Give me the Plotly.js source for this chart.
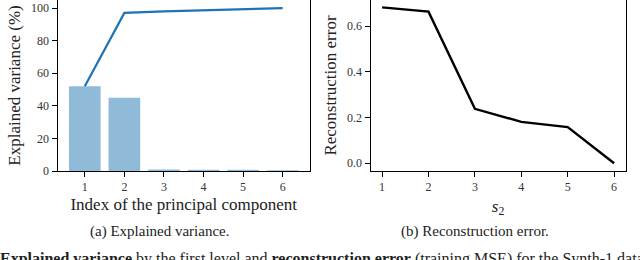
<!DOCTYPE html>
<html><head><meta charset="utf-8">
<script src="https://cdn.plot.ly/plotly-3.0.1.min.js"></script>
<style>html,body{margin:0;padding:0;background:#fff;}#plot{width:640px;height:260px;}</style>
</head><body><div id="plot"></div>
<script>
const components = [1, 2, 3, 4, 5, 6];
const explainedVariance = [52.1, 45.0, 0.9, 0.8, 0.7, 0.5];
const cumulativeVariance = [52.1, 97.1, 98.0, 98.8, 99.5, 100.0];
const s2Values = [1, 2, 3, 4, 5, 6];
const reconstructionError = [0.682, 0.663, 0.238, 0.181, 0.158, 0.0];
const tickLabels = ['1', '2', '3', '4', '5', '6'];

const F = '"Liberation Serif", "Times New Roman", serif';
const traces = [
  {type:'bar', x:components, y:explainedVariance, marker:{color:'#8fbbd9'}, width:0.8, xaxis:'x', yaxis:'y', hoverinfo:'skip'},
  {type:'scatter', mode:'lines', x:components, y:cumulativeVariance, line:{color:'#1f73b4', width:2.2}, xaxis:'x', yaxis:'y'},
  {type:'scatter', mode:'lines', x:s2Values, y:reconstructionError, line:{color:'#000', width:2.4}, xaxis:'x2', yaxis:'y2'}
];
function ax(extra){
  return Object.assign({showline:true, mirror:true, linecolor:'#000', linewidth:1, ticks:'outside', ticklen:5, tickwidth:1, tickcolor:'#000', showgrid:false, zeroline:false, tickfont:{family:F, size:12, color:'#333'}}, extra);
}
const layout = {
  width:640, height:260, margin:{l:0,r:0,t:0,b:0}, showlegend:false,
  paper_bgcolor:'#fff', plot_bgcolor:'#fff', font:{family:F, color:'#222'},
  xaxis: ax({domain:[57.5/640, 310/640], range:[0.31, 6.69], tickvals:components, ticktext:tickLabels, anchor:'y',
    title:{text:'Index of the principal component', font:{family:F, size:17, color:'#222'}, standoff:4}}),
  yaxis: ax({domain:[89/260, 1], range:[0, 105], tickvals:[0,20,40,60,80,100], anchor:'x',
    title:{text:'Explained variance (%)', font:{family:F, size:17, color:'#222'}, standoff:6}}),
  xaxis2: ax({domain:[370.5/640, 625.7/640], range:[0.75, 6.25], tickvals:s2Values, ticktext:tickLabels, anchor:'y2',
    title:{text:'<i>s</i><sub>2</sub>', font:{family:F, size:17, color:'#222'}, standoff:6}}),
  yaxis2: ax({domain:[89/260, 1], range:[-0.034, 0.714], tickvals:[0,0.2,0.4,0.6], ticktext:['0.0','0.2','0.4','0.6'], anchor:'x2',
    title:{text:'Reconstruction error', font:{family:F, size:17, color:'#222'}, standoff:6}}),
  annotations:[
    {xref:'paper', yref:'paper', x:160/640, y:(260-231)/260, text:'(a) Explained variance.', showarrow:false, font:{family:F, size:15, color:'#222'}, xanchor:'center', yanchor:'middle'},
    {xref:'paper', yref:'paper', x:475/640, y:(260-231)/260, text:'(b) Reconstruction error.', showarrow:false, font:{family:F, size:15, color:'#222'}, xanchor:'center', yanchor:'middle'},
    {xref:'paper', yref:'paper', x:-2/640, y:(260-259)/260, text:'<b>Explained variance</b> by the first level and <b>reconstruction error</b> (training MSE) for the Synth-1 dataset', showarrow:false, font:{family:F, size:16, color:'#222'}, xanchor:'left', yanchor:'middle'}
  ]
};
Plotly.newPlot('plot', traces, layout, {staticPlot:true, displayModeBar:false});
</script></body></html>
